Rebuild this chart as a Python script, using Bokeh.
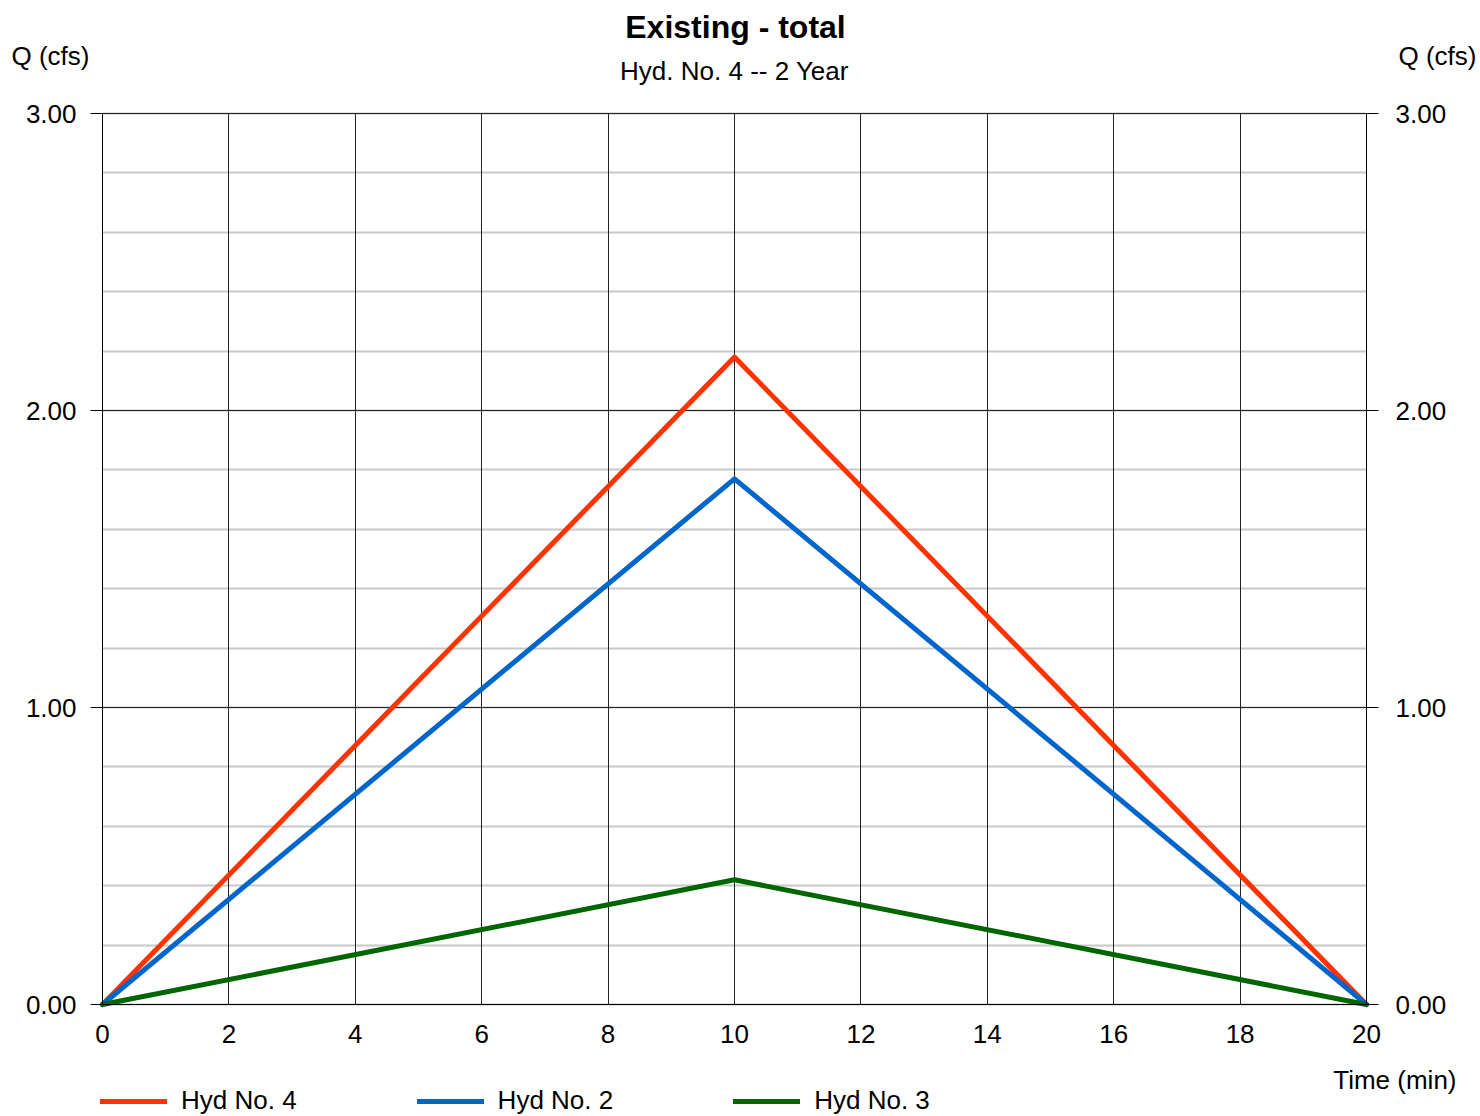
from bokeh.plotting import figure
from bokeh.models import (Range1d, LinearAxis, SingleIntervalTicker, Label, Legend, LegendItem,
                          PrintfTickFormatter, Grid)
from bokeh.embed import file_html
from bokeh.resources import INLINE

# ---- data ----
time_min = [0, 10, 20]
hyd4 = [0.0, 2.18, 0.0]
hyd2 = [0.0, 1.77, 0.0]
hyd3 = [0.0, 0.42, 0.0]
series_names = ["Hyd No. 4", "Hyd No. 2", "Hyd No. 3"]
x_ticks = [0, 2, 4, 6, 8, 10, 12, 14, 16, 18, 20]
y_ticks = [0.0, 1.0, 2.0, 3.0]
title_text = "Existing - total"
subtitle_text = "Hyd. No. 4 -- 2 Year"
y_label = "Q (cfs)"
x_label = "Time (min)"

FONT = "Liberation Sans"
COLORS = ["#FF3300", "#0066CC", "#006600"]

W, H = 1480, 1116
# plot area in canvas pixels
PL, PR, PT, PB = 102, 1366, 113, 1004
X0, X1 = x_ticks[0], x_ticks[-1]
Y0, Y1 = y_ticks[0], y_ticks[-1]
sx = (PR - PL) / (X1 - X0)
sy = (PB - PT) / (Y1 - Y0)
x_range = Range1d(X0 - PL / sx, X1 + (W - PR) / sx)
y_range = Range1d(Y0 - (H - PB) / sy, Y1 + PT / sy)

def px2x(px):
    return X0 + (px - PL) / sx

def py2y(py):
    return Y0 + (PB - py) / sy

p = figure(width=W, height=H, output_backend="svg", toolbar_location=None, title=None,
           x_range=x_range, y_range=y_range,
           min_border_left=0, min_border_right=0, min_border_top=0, min_border_bottom=0,
           x_axis_type=None, y_axis_type=None)
p.outline_line_color = None
p.background_fill_color = "white"
p.border_fill_color = "white"

yticker = SingleIntervalTicker(interval=1, num_minor_ticks=5)
xticker = SingleIntervalTicker(interval=2, num_minor_ticks=0)

def style_axis(ax):
    ax.axis_line_color = "black"
    ax.axis_line_width = 1
    ax.major_tick_line_color = "black"
    ax.minor_tick_line_color = None
    ax.major_label_text_font = FONT
    ax.major_label_text_font_size = "26px"
    ax.major_label_text_color = "black"

# ---- grid ----
has_cross = "cross_bounds" in Grid.properties()
if has_cross:
    yg = Grid(dimension=1, ticker=yticker, bounds=(Y0, Y1), cross_bounds=(X0, X1),
              grid_line_color="#222222", grid_line_width=1,
              minor_grid_line_color="#C8C8C8", minor_grid_line_width=2)
    xg = Grid(dimension=0, ticker=xticker, bounds=(X0, X1), cross_bounds=(Y0, Y1),
              grid_line_color="#222222", grid_line_width=1)
    p.add_layout(yg)
    p.add_layout(xg)
else:
    minor = [Y0 + i * 0.2 for i in range(int(round((Y1 - Y0) / 0.2)) + 1)]
    minor = [m for m in minor if all(abs(m - t) > 1e-9 for t in y_ticks)]
    p.segment(x0=[X0] * len(minor), x1=[X1] * len(minor), y0=minor, y1=minor,
              line_color="#C8C8C8", line_width=2, level="underlay")
    p.segment(x0=[X0] * len(y_ticks), x1=[X1] * len(y_ticks), y0=y_ticks, y1=y_ticks,
              line_color="#222222", line_width=1, level="underlay")
    p.segment(x0=x_ticks, x1=x_ticks, y0=[Y0] * len(x_ticks), y1=[Y1] * len(x_ticks),
              line_color="#222222", line_width=1, level="underlay")

# ---- axes (fixed in data space) ----
left = LinearAxis(ticker=yticker, formatter=PrintfTickFormatter(format="%.2f"),
                  fixed_location=X0, bounds=(Y0, Y1))
style_axis(left)
left.major_tick_out = 12
left.major_tick_in = 0
left.major_label_standoff = 14
p.add_layout(left, "left")

right = LinearAxis(ticker=yticker, formatter=PrintfTickFormatter(format="%.2f"),
                   fixed_location=X1, bounds=(Y0, Y1))
style_axis(right)
right.major_tick_out = 12
right.major_tick_in = 0
right.major_label_standoff = 17
p.add_layout(right, "right")

bottom = LinearAxis(ticker=xticker, fixed_location=Y0, bounds=(X0, X1))
style_axis(bottom)
bottom.major_tick_out = 0
bottom.major_tick_in = 0
bottom.major_label_standoff = 20
p.add_layout(bottom, "below")

# ---- series ----
renderers = []
for ys, c in zip([hyd4, hyd2, hyd3], COLORS):
    r = p.line(time_min, ys, line_color=c, line_width=5, line_join="round", line_cap="round")
    renderers.append(r)

legend = Legend(items=[LegendItem(label=n, renderers=[r]) for n, r in zip(series_names, renderers)],
                orientation="horizontal", location=(100, 0),
                glyph_width=67, glyph_height=26, label_standoff=14, spacing=120,
                padding=0, margin=0, border_line_color=None, background_fill_alpha=0,
                label_text_font=FONT, label_text_font_size="26px", label_text_color="black")
p.add_layout(legend)

def lab(px, py, text, align, size="26px", style="normal"):
    p.add_layout(Label(x=px2x(px), y=py2y(py), text=text, text_align=align,
                       text_baseline="middle", text_font=FONT, text_font_size=size,
                       text_font_style=style, text_color="black"))

lab(735, 26, title_text, "center", "32px", "bold")
lab(734, 70, subtitle_text, "center")
lab(11, 55, y_label, "left")
lab(1476, 55, y_label, "right")
lab(1456, 1079, x_label, "right")

open("out.html", "w").write(file_html(p, INLINE))
